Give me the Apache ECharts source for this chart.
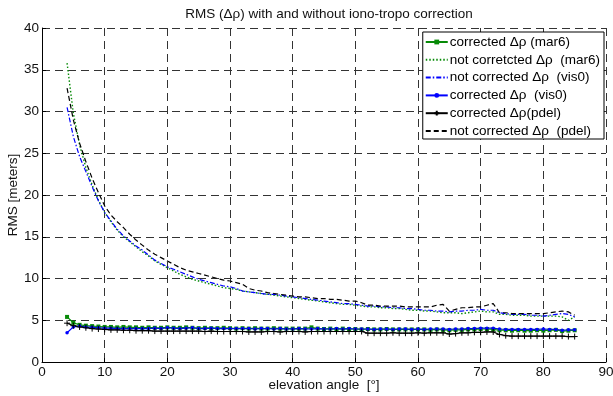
<!DOCTYPE html>
<html>
<head>
<meta charset="utf-8">
<script src="https://cdn.jsdelivr.net/npm/echarts@6/dist/echarts.min.js"></script>
<style>
  html, body { margin: 0; padding: 0; background: #fff; }
  #chart { width: 613px; height: 396px; }
</style>
</head>
<body>
<div id="chart"></div>
<script>
// elevation angles (deg)
const elev = [4, 5, 6, 7, 8, 9, 10, 11, 12, 13, 14, 15, 16, 17, 18, 19, 20, 21, 22, 23, 24, 25, 26, 27, 28, 29,
  30, 31, 32, 33, 34, 35, 36, 37, 38, 39, 40, 41, 42, 43, 44, 45, 46, 47, 48, 49, 50, 51, 52, 53, 54, 55,
  56, 57, 58, 59, 60, 61, 62, 63, 64, 65, 66, 67, 68, 69, 70, 71, 72, 73, 74, 75, 76, 77, 78, 79, 80, 81,
  82, 83, 84, 85];

// corrected dRho (mar6)
const corrMar6 = [5.4, 4.7, 4.45, 4.35, 4.3, 4.25, 4.2, 4.2, 4.15, 4.2, 4.15, 4.15, 4.1, 4.15, 4.1, 4.1, 4.15,
  4.1, 4.1, 4.15, 4.1, 4.05, 4.1, 4.05, 4.05, 4.1, 4.05, 4.0, 4.05, 4.0, 4.05, 4.0, 4.0, 4.05, 4.0, 4.0,
  4.0, 4.0, 4.0, 4.15, 4.0, 3.95, 4.0, 3.95, 4.0, 3.95, 3.95, 3.9, 3.95, 3.9, 3.9, 3.95, 3.9, 3.9, 3.9,
  3.9, 3.9, 3.9, 3.85, 3.9, 3.85, 3.8, 3.85, 3.85, 3.9, 3.9, 3.95, 3.95, 3.9, 3.8, 3.8, 3.75, 3.8, 3.75,
  3.75, 3.8, 3.75, 3.8, 3.85, 3.7, 3.75, 3.8];

// not corrected dRho (mar6)
const notCorrMar6 = [35.8, 29.8, 26.0, 23.3, 21.2, 19.4, 17.9, 16.8, 15.8, 15.0, 14.4, 13.8, 13.2, 12.7, 12.1,
  11.7, 11.3, 10.9, 10.5, 10.2, 9.9, 9.7, 9.5, 9.3, 9.1, 8.9, 8.8, 8.7, 8.5, 8.4, 8.3, 8.2, 8.1, 8.0, 7.9,
  7.8, 7.7, 7.6, 7.5, 7.4, 7.3, 7.2, 7.1, 7.0, 6.9, 6.9, 6.8, 6.7, 6.6, 6.6, 6.5, 6.5, 6.4, 6.4, 6.3, 6.2,
  6.2, 6.1, 6.1, 6.0, 5.9, 5.9, 5.9, 5.8, 5.9, 6.0, 6.1, 6.0, 6.0, 5.7, 5.7, 5.6, 5.6, 5.6, 5.5, 5.5, 5.5,
  5.5, 5.5, 5.4, 5.0, 5.4];

// not corrected dRho (vis0)
const notCorrVis0 = [30.5, 27.0, 24.6, 22.8, 21.0, 19.3, 17.9, 16.9, 15.9, 15.1, 14.5, 13.9, 13.4, 12.8, 12.2,
  11.8, 11.4, 11.1, 10.8, 10.5, 10.2, 9.9, 9.7, 9.5, 9.3, 9.1, 9.0, 8.8, 8.5, 8.4, 8.3, 8.2, 8.1, 8.1, 8.0,
  7.9, 7.8, 7.7, 7.6, 7.5, 7.4, 7.3, 7.2, 7.1, 7.0, 7.0, 6.9, 6.8, 6.7, 6.7, 6.6, 6.6, 6.5, 6.5, 6.4, 6.4,
  6.3, 6.2, 6.2, 6.1, 6.1, 6.0, 6.1, 6.1, 6.2, 6.2, 6.3, 6.2, 6.2, 5.9, 5.8, 5.7, 5.7, 5.7, 5.6, 5.6, 5.5,
  5.6, 5.7, 5.8, 5.7, 5.4];

// corrected dRho (vis0)
const corrVis0 = [3.5, 4.2, 4.3, 4.2, 4.15, 4.1, 4.05, 4.05, 4.0, 4.0, 4.0, 4.0, 4.0, 4.0, 4.05, 4.0, 4.1, 4.05,
  4.0, 4.05, 4.1, 4.0, 4.0, 4.05, 4.0, 4.0, 4.0, 4.0, 4.0, 4.0, 3.95, 4.0, 4.0, 3.95, 4.0, 3.95, 3.95, 4.0,
  3.95, 3.95, 4.0, 3.95, 3.95, 4.0, 3.95, 4.0, 3.95, 3.95, 3.95, 3.9, 3.95, 3.95, 3.9, 3.95, 3.95, 3.9, 3.95,
  3.9, 3.95, 3.95, 3.95, 3.9, 3.95, 3.95, 4.0, 4.0, 4.05, 4.05, 4.05, 3.95, 3.9, 3.9, 3.9, 3.9, 3.9, 3.9,
  3.95, 3.9, 3.9, 3.8, 3.85, 3.85];

// corrected dRho (pdel)
const corrPdel = [4.65, 4.35, 4.2, 4.1, 4.0, 3.95, 3.9, 3.85, 3.85, 3.8, 3.8, 3.75, 3.75, 3.75, 3.7, 3.7, 3.7,
  3.7, 3.7, 3.7, 3.7, 3.7, 3.65, 3.7, 3.65, 3.65, 3.65, 3.65, 3.65, 3.6, 3.6, 3.6, 3.65, 3.65, 3.6, 3.65,
  3.65, 3.65, 3.6, 3.65, 3.65, 3.65, 3.65, 3.65, 3.65, 3.65, 3.65, 3.65, 3.45, 3.45, 3.45, 3.45, 3.5, 3.45,
  3.45, 3.45, 3.5, 3.45, 3.5, 3.5, 3.5, 3.35, 3.4, 3.5, 3.5, 3.55, 3.55, 3.6, 3.6, 3.3, 3.15, 3.1, 3.1,
  3.1, 3.1, 3.1, 3.1, 3.1, 3.1, 3.1, 3.05, 3.05];

// not corrected dRho (pdel)
const notCorrPdel = [32.8, 29.0, 26.2, 24.0, 22.0, 20.3, 18.7, 17.6, 16.8, 16.1, 15.3, 14.6, 14.0, 13.4, 12.9,
  12.5, 12.1, 11.7, 11.3, 11.0, 10.8, 10.6, 10.4, 10.2, 10.0, 9.8, 9.7, 9.5, 9.3, 8.8, 8.6, 8.5, 8.3, 8.2,
  8.1, 8.0, 7.9, 7.8, 7.8, 7.7, 7.6, 7.6, 7.5, 7.5, 7.4, 7.3, 7.3, 7.1, 6.8, 6.8, 6.7, 6.7, 6.7, 6.7, 6.6,
  6.6, 6.6, 6.6, 6.6, 6.8, 6.9, 6.1, 6.3, 6.5, 6.5, 6.6, 6.6, 6.8, 7.0, 5.9, 5.9, 5.8, 5.8, 5.8, 5.8, 5.8,
  5.8, 5.9, 6.0, 6.1, 6.0, 5.6];

const xTicks = [0, 10, 20, 30, 40, 50, 60, 70, 80, 90];
const yTicks = [0, 5, 10, 15, 20, 25, 30, 35, 40];

const seriesNames = [
  "corrected \u0394\u03c1 (mar6)",
  "not corretcted \u0394\u03c1  (mar6)",
  "not corrected \u0394\u03c1  (vis0)",
  "corrected \u0394\u03c1  (vis0)",
  "corrected \u0394\u03c1(pdel)",
  "not corrected \u0394\u03c1  (pdel)"
];
// series drawn without markers (their legend entry shows only the line)
const noMarker = [false, true, true, false, false, true];

const FONT = "'Liberation Sans', Arial, Helvetica, sans-serif";
const FS = 13.5;
const GREEN = "#078a07";
const BLUE = "#0000ff";
const BLACK = "#000000";
const PLUS = "path://M0,5H10M5,0V10";

const pairs = vals => elev.map((x, i) => [x, vals[i]]);

const chart = echarts.init(document.getElementById("chart"), null, { renderer: "canvas" });

const option = {
  animation: false,
  backgroundColor: "#fff",
  textStyle: { fontFamily: FONT },
  title: {
    text: "RMS (\u0394\u03c1) with and without iono-tropo correction",
    left: 324,
    textAlign: "center",
    top: 2,
    textStyle: { fontSize: FS, fontWeight: "normal", color: "#111", fontFamily: FONT }
  },
  legend: {
    orient: "vertical",
    right: 9,
    top: 32,
    data: seriesNames.map((n, i) => noMarker[i] ? { name: n, itemStyle: { opacity: 0 } } : { name: n }),
    backgroundColor: "#fff",
    borderColor: "#000",
    borderWidth: 1,
    borderRadius: 0,
    padding: [3, 4, 1, 2],
    itemGap: 3.8,
    itemWidth: 22,
    itemHeight: 6,
    textStyle: { fontSize: FS, lineHeight: 14, color: "#000", fontFamily: FONT, padding: [0, 0, 0, -3] }
  },
  grid: { left: 42, right: 7, top: 28, bottom: 34, outerBoundsMode: "none", containLabel: false },
  xAxis: {
    type: "value",
    min: 0,
    max: 90,
    interval: 10,
    name: "elevation angle  [\u00b0]",
    nameLocation: "middle",
    nameGap: 16,
    nameMoveOverlap: false,
    nameTextStyle: { fontSize: FS, color: "#111", fontFamily: FONT },
    axisLine: { show: true, lineStyle: { color: "#000", width: 1 } },
    axisTick: { show: true, inside: true, length: 4, lineStyle: { color: "#000" } },
    axisLabel: {
      fontSize: FS, color: "#111", margin: 3, fontFamily: FONT,
      formatter: v => (xTicks.includes(v) ? String(v) : "")
    },
    splitLine: { show: true, lineStyle: { color: "#333", width: 1, type: [8, 5] } }
  },
  yAxis: {
    type: "value",
    min: 0,
    max: 40,
    interval: 5,
    name: "RMS [meters]",
    nameLocation: "middle",
    nameGap: 22,
    nameMoveOverlap: false,
    nameTextStyle: { fontSize: FS, color: "#111", fontFamily: FONT },
    axisLine: { show: true, lineStyle: { color: "#000", width: 1 } },
    axisTick: { show: true, inside: true, length: 4, lineStyle: { color: "#000" } },
    axisLabel: {
      fontSize: FS, color: "#111", margin: 3, fontFamily: FONT,
      formatter: v => (yTicks.includes(v) ? String(v) : "")
    },
    splitLine: { show: true, lineStyle: { color: "#333", width: 1, type: [8, 5] } }
  },
  series: [
    {
      name: seriesNames[0], type: "line", data: pairs(corrMar6),
      symbol: "rect", symbolSize: 4,
      lineStyle: { color: GREEN, width: 1.2 },
      itemStyle: { color: GREEN }
    },
    {
      name: seriesNames[1], type: "line", data: pairs(notCorrMar6),
      symbol: "none",
      lineStyle: { color: GREEN, width: 1.4, type: [1.5, 2] },
      itemStyle: { color: GREEN }
    },
    {
      name: seriesNames[2], type: "line", data: pairs(notCorrVis0),
      symbol: "none",
      lineStyle: { color: BLUE, width: 1.2, type: [5, 2, 1.5, 2] },
      itemStyle: { color: BLUE }
    },
    {
      name: seriesNames[3], type: "line", data: pairs(corrVis0),
      symbol: "circle", symbolSize: 3.5,
      lineStyle: { color: BLUE, width: 1.2 },
      itemStyle: { color: BLUE }
    },
    {
      name: seriesNames[4], type: "line", data: pairs(corrPdel),
      symbol: PLUS, symbolSize: 6,
      lineStyle: { color: BLACK, width: 1.2 },
      itemStyle: { color: BLACK, borderColor: BLACK, borderWidth: 1 }
    },
    {
      name: seriesNames[5], type: "line", data: pairs(notCorrPdel),
      symbol: "none",
      lineStyle: { color: BLACK, width: 1.2, type: [5, 3] },
      itemStyle: { color: BLACK }
    }
  ]
};

chart.setOption(option);
</script>
</body>
</html>
